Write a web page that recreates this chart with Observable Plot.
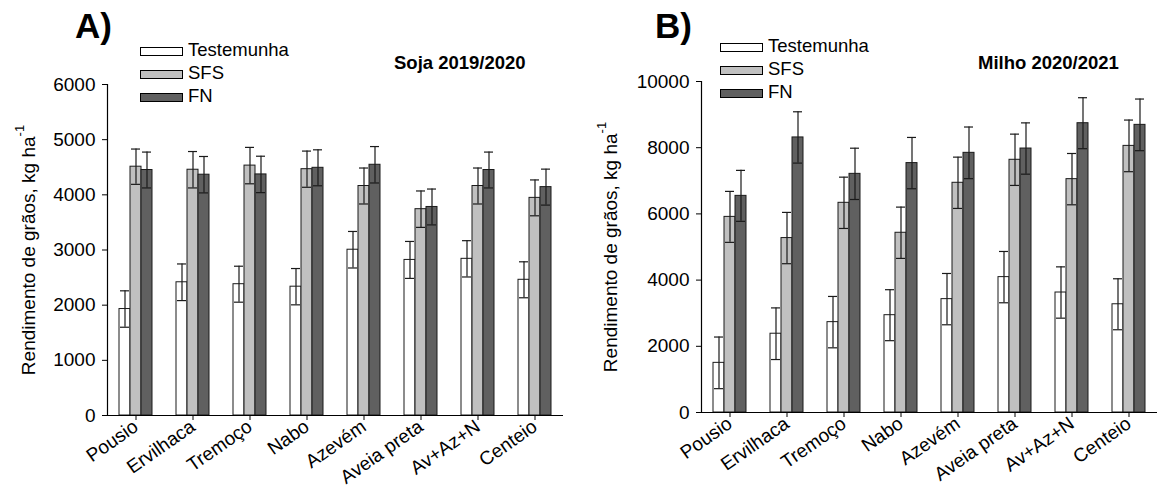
<!DOCTYPE html>
<html><head><meta charset="utf-8">
<script src="https://cdn.jsdelivr.net/npm/d3@7"></script>
<script src="https://cdn.jsdelivr.net/npm/@observablehq/plot@0.6"></script>
<style>
body{margin:0;background:#fff;font-family:"Liberation Sans",Arial,sans-serif;}
#wrap{position:relative;width:1158px;height:488px;overflow:hidden;background:#fff;}
.panel{position:absolute;top:0;}
.ov{position:absolute;white-space:nowrap;color:#000;line-height:1;}
.big{font-weight:bold;font-size:35px;}
.ttl{font-weight:bold;font-size:18.5px;}
.leg{font-size:18.5px;}
.sw{position:absolute;height:7px;width:41px;border:1px solid #000;}
.ylab{font-size:19px;transform:translate(-50%,-50%) rotate(-90deg);}
.ylab sup{font-size:13px;position:relative;top:-3px;}
</style></head><body><div id="wrap"></div><script>
const categories = ["Pousio","Ervilhaca","Tremoço","Nabo","Azevém","Aveia preta","Av+Az+N","Centeio"];
const series = ["Testemunha","SFS","FN"];
const fills = ["#ffffff","#c0c0c0","#606060"];

// Soja 2019/2020 (kg/ha)
const sojaTestemunha = [1930, 2415, 2380, 2335, 3005, 2820, 2840, 2460];
const sojaSFS        = [4510, 4455, 4530, 4465, 4160, 3740, 4160, 3945];
const sojaFN         = [4450, 4365, 4370, 4490, 4545, 3780, 4450, 4140];
const sojaErrTestemunha = [330, 332, 326, 329, 331, 335, 329, 326];
const sojaErrSFS        = [320, 330, 330, 328, 326, 330, 326, 325];
const sojaErrFN         = [325, 330, 330, 326, 330, 325, 325, 326];

// Milho 2020/2021 (kg/ha)
const milhoTestemunha = [1500, 2380, 2730, 2940, 3425, 4090, 3625, 3270];
const milhoSFS        = [5910, 5270, 6335, 5430, 6940, 7635, 7050, 8055];
const milhoFN         = [6545, 8310, 7210, 7535, 7845, 7975, 8740, 8690];
const milhoErrTestemunha = [780, 780, 776, 770, 775, 775, 775, 770];
const milhoErrSFS        = [770, 775, 775, 775, 775, 775, 775, 780];
const milhoErrFN         = [770, 775, 775, 775, 780, 775, 770, 780];

const sojaTicks = [0,1000,2000,3000,4000,5000,6000];
const milhoTicks = [0,2000,4000,6000,8000,10000];

const wrap = document.getElementById("wrap");

function addDiv(cls, html, left, top, extra) {
  const d = document.createElement("div");
  d.className = "ov " + cls;
  d.innerHTML = html;
  d.style.left = left + "px";
  d.style.top = top + "px";
  if (extra) Object.assign(d.style, extra);
  wrap.appendChild(d);
  return d;
}

function panel(o) {
  const rows = [];
  categories.forEach((c, i) => series.forEach((s, j) => rows.push({cat: c, ser: s, v: o.values[j][i], e: o.errs[j][i]})));
  const chart = Plot.plot({
    width: o.width, height: 488,
    marginLeft: o.ml, marginRight: o.mr, marginTop: o.mt, marginBottom: o.mb,
    style: {fontFamily: "Liberation Sans, Arial, sans-serif", fontSize: "19px", color: "#000", background: "transparent"},
    fx: {domain: categories, padding: 0, axis: null},
    x: {domain: series, paddingInner: 0, paddingOuter: 0.96, axis: null},
    y: {domain: [0, o.yMax], axis: null},
    color: {domain: series, range: fills},
    marks: [
      Plot.barY(rows, {fx: "cat", x: "ser", y: "v", fill: "ser", stroke: "#1a1a1a", strokeWidth: 1}),
      Plot.ruleX(rows, {fx: "cat", x: "ser", y1: d => d.v - d.e, y2: d => d.v + d.e, stroke: "#1a1a1a", strokeWidth: 1.2}),
      Plot.tickY(rows, {fx: "cat", x: "ser", y: d => d.v + d.e, stroke: "#1a1a1a", strokeWidth: 1.2, insetLeft: 1, insetRight: 1}),
      Plot.tickY(rows, {fx: "cat", x: "ser", y: d => d.v - d.e, stroke: "#1a1a1a", strokeWidth: 1.2, insetLeft: 1, insetRight: 1}),
      Plot.ruleY([0], {stroke: "#000", strokeWidth: 1.2}),
      Plot.frame({anchor: "left", facetAnchor: "left", stroke: "#000", strokeWidth: 1.2}),
      Plot.axisY({ticks: o.ticks, tickSize: 5, tickPadding: 7, tickFormat: d => String(d), label: null, fontSize: 19}),
      Plot.axisFx({anchor: "bottom", tickSize: 5, tickPadding: 4, tickRotate: -35, label: null, fontSize: 19})
    ]
  });
  const holder = document.createElement("div");
  holder.className = "panel";
  holder.style.left = o.left + "px";
  holder.appendChild(chart);
  wrap.appendChild(holder);

  // overlays: panel letter, legend, title, y label
  addDiv("big", o.letter, o.left + o.letterX, 8);
  series.forEach((s, j) => {
    const sw = document.createElement("div");
    sw.className = "sw";
    sw.style.left = (o.left + o.legX) + "px";
    sw.style.top = (o.legY[j] - 4.5) + "px";
    sw.style.background = fills[j];
    wrap.appendChild(sw);
    addDiv("leg", s, o.left + o.legX + 48, o.legY[j] - 10);
  });
  addDiv("ttl", o.title, o.left + o.titleX, 54);
  addDiv("ylab", "Rendimento de grãos, kg ha<sup>-1</sup>", o.left + o.ylabX, (o.mt + 488 - o.mb) / 2);
}

panel({left: 0, width: 580, ml: 107, mr: 17, mt: 84, mb: 73, yMax: 6000, ticks: sojaTicks,
  values: [sojaTestemunha, sojaSFS, sojaFN], errs: [sojaErrTestemunha, sojaErrSFS, sojaErrFN],
  letter: "A)", letterX: 75, legX: 140, legY: [51, 74, 97], title: "Soja 2019/2020", titleX: 394, ylabX: 27});
panel({left: 580, width: 578, ml: 120, mr: 1, mt: 81, mb: 76, yMax: 10000, ticks: milhoTicks,
  values: [milhoTestemunha, milhoSFS, milhoFN], errs: [milhoErrTestemunha, milhoErrSFS, milhoErrFN],
  letter: "B)", letterX: 75, legX: 140, legY: [47, 70, 93], title: "Milho 2020/2021", titleX: 398, ylabX: 29});
</script></body></html>
